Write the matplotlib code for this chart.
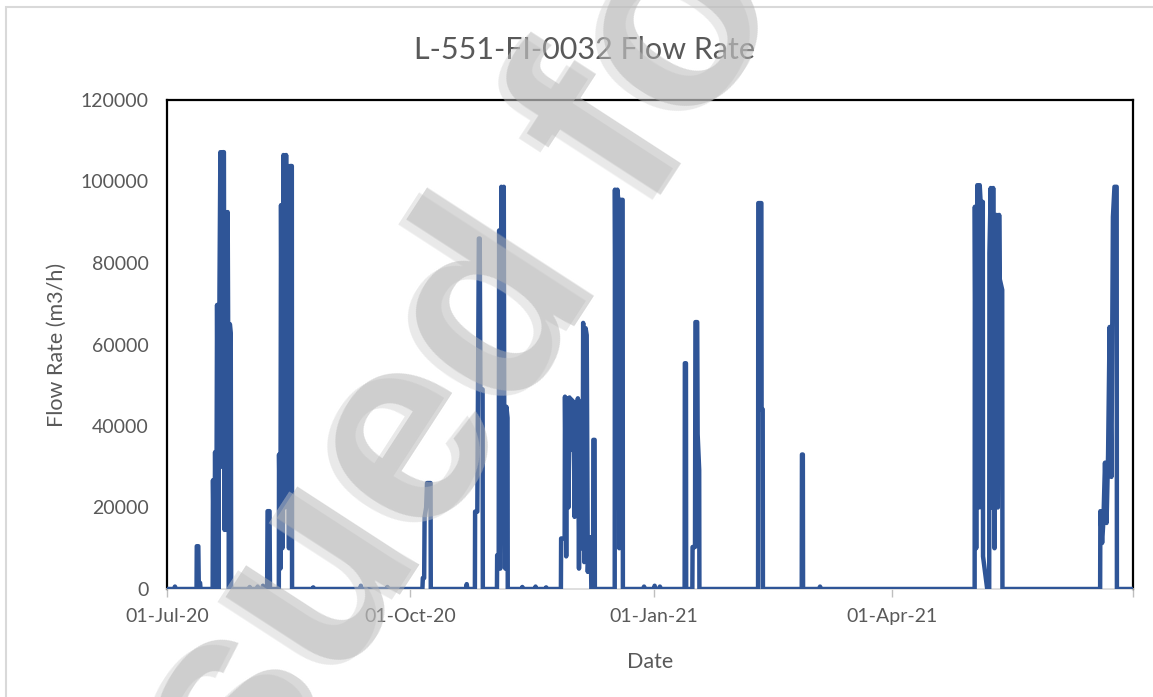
import pandas as pd
import matplotlib.pyplot as plt
from matplotlib.patches import Rectangle

# Flow readings (timestamp, m3/h)
times = [
    "2020-07-01 00:00", "2020-07-03 20:00", "2020-07-04 00:00", "2020-07-04 06:00",
    "2020-07-12 04:00", "2020-07-12 06:00", "2020-07-12 20:00", "2020-07-13 00:00", "2020-07-13 12:00", "2020-07-13 16:00",
    "2020-07-18 06:00", "2020-07-18 09:00", "2020-07-18 20:00", "2020-07-19 04:00", "2020-07-19 14:00", "2020-07-19 22:00",
    "2020-07-20 10:00", "2020-07-20 20:00", "2020-07-21 04:00", "2020-07-21 16:00", "2020-07-22 02:00", "2020-07-22 12:00",
    "2020-07-22 18:00", "2020-07-23 04:00", "2020-07-23 14:00", "2020-07-23 22:00", "2020-07-24 02:00", "2020-07-24 10:00",
    "2020-07-24 18:00", "2020-07-25 02:00", "2020-07-25 06:00",
    "2020-08-01 00:00", "2020-08-01 06:00", "2020-08-01 12:00", "2020-08-04 00:00", "2020-08-04 06:00", "2020-08-04 12:00",
    "2020-08-06 00:00", "2020-08-06 06:00", "2020-08-06 12:00",
    "2020-08-07 20:00", "2020-08-08 00:00", "2020-08-08 18:00", "2020-08-08 22:00",
    "2020-08-12 06:00", "2020-08-12 08:00", "2020-08-12 20:00", "2020-08-13 02:00", "2020-08-13 14:00", "2020-08-14 00:00",
    "2020-08-14 12:00", "2020-08-15 00:00", "2020-08-15 06:00", "2020-08-15 14:00", "2020-08-16 02:00", "2020-08-16 12:00",
    "2020-08-17 04:00", "2020-08-17 06:00",
    "2020-08-25 00:00", "2020-08-25 06:00", "2020-08-25 12:00",
    "2020-09-12 00:00", "2020-09-12 06:00", "2020-09-12 12:00",
    "2020-09-22 00:00", "2020-09-22 06:00", "2020-09-22 12:00",
    "2020-10-05 12:00", "2020-10-05 16:00", "2020-10-06 04:00", "2020-10-06 08:00", "2020-10-06 22:00", "2020-10-07 06:00",
    "2020-10-08 14:00", "2020-10-08 16:00",
    "2020-10-22 00:00", "2020-10-22 06:00", "2020-10-22 12:00",
    "2020-10-25 08:00", "2020-10-25 10:00", "2020-10-26 06:00", "2020-10-26 20:00", "2020-10-27 04:00", "2020-10-27 10:00",
    "2020-10-28 06:00", "2020-10-28 08:00",
    "2020-11-02 16:00", "2020-11-02 18:00", "2020-11-03 08:00", "2020-11-03 12:00", "2020-11-03 22:00", "2020-11-04 08:00",
    "2020-11-04 20:00", "2020-11-05 06:00", "2020-11-05 10:00", "2020-11-05 20:00", "2020-11-06 06:00", "2020-11-06 16:00",
    "2020-11-06 18:00",
    "2020-11-12 00:00", "2020-11-12 06:00", "2020-11-12 12:00",
    "2020-11-17 00:00", "2020-11-17 06:00", "2020-11-17 12:00",
    "2020-11-21 00:00", "2020-11-21 06:00", "2020-11-21 12:00",
    "2020-11-26 20:00", "2020-11-26 22:00", "2020-11-28 06:00", "2020-11-28 09:00", "2020-11-28 20:00", "2020-11-29 06:00",
    "2020-11-29 16:00", "2020-11-30 02:00", "2020-11-30 10:00", "2020-11-30 20:00", "2020-12-01 06:00", "2020-12-01 14:00",
    "2020-12-02 00:00", "2020-12-02 10:00", "2020-12-02 20:00", "2020-12-03 06:00", "2020-12-03 16:00", "2020-12-04 02:00",
    "2020-12-04 12:00", "2020-12-05 00:00", "2020-12-05 06:00", "2020-12-05 16:00", "2020-12-06 04:00", "2020-12-06 14:00",
    "2020-12-07 00:00", "2020-12-07 10:00", "2020-12-07 16:00", "2020-12-08 02:00", "2020-12-08 08:00",
    "2020-12-09 00:00", "2020-12-09 02:00", "2020-12-09 14:00", "2020-12-09 16:00",
    "2020-12-17 04:00", "2020-12-17 06:00", "2020-12-17 18:00", "2020-12-18 04:00", "2020-12-18 12:00", "2020-12-18 22:00",
    "2020-12-19 08:00", "2020-12-20 04:00", "2020-12-20 06:00",
    "2020-12-28 00:00", "2020-12-28 06:00", "2020-12-28 12:00",
    "2021-01-01 00:00", "2021-01-01 06:00", "2021-01-01 12:00",
    "2021-01-03 00:00", "2021-01-03 06:00", "2021-01-03 12:00",
    "2021-01-12 14:00", "2021-01-12 16:00", "2021-01-13 02:00", "2021-01-13 04:00",
    "2021-01-15 12:00", "2021-01-15 14:00", "2021-01-16 12:00", "2021-01-16 16:00", "2021-01-17 08:00", "2021-01-17 12:00",
    "2021-01-18 02:00", "2021-01-18 04:00",
    "2021-02-09 08:00", "2021-02-09 10:00", "2021-02-10 14:00", "2021-02-10 16:00", "2021-02-11 02:00", "2021-02-11 04:00",
    "2021-02-25 20:00", "2021-02-25 22:00", "2021-02-26 06:00", "2021-02-26 08:00",
    "2021-03-04 12:00", "2021-03-04 18:00", "2021-03-05 00:00",
    "2021-05-02 04:00", "2021-05-02 06:00", "2021-05-02 18:00", "2021-05-03 04:00", "2021-05-03 16:00", "2021-05-04 02:00",
    "2021-05-04 10:00", "2021-05-04 20:00", "2021-05-05 06:00", "2021-05-05 08:00", "2021-05-06 22:00",
    "2021-05-07 16:00", "2021-05-07 18:00", "2021-05-08 06:00", "2021-05-08 18:00", "2021-05-09 04:00", "2021-05-09 16:00",
    "2021-05-10 04:00", "2021-05-10 10:00", "2021-05-10 22:00", "2021-05-11 10:00", "2021-05-11 16:00", "2021-05-12 14:00",
    "2021-05-12 16:00",
    "2021-06-18 14:00", "2021-06-18 16:00", "2021-06-19 08:00", "2021-06-19 20:00", "2021-06-20 10:00", "2021-06-21 00:00",
    "2021-06-21 14:00", "2021-06-22 04:00", "2021-06-22 20:00", "2021-06-23 10:00", "2021-06-24 00:00", "2021-06-24 20:00",
    "2021-06-24 22:00", "2021-06-30 22:00",
]
flow = [
    0, 0, 600, 0,
    0, 10500, 10500, 1500, 1500, 0,
    0, 26700, 0, 33600, 0, 69700,
    0, 74000, 107200, 30000, 107200, 107200,
    14500, 92500, 14500, 92500, 68000, 0,
    65000, 62800, 0,
    0, 500, 0, 0, 600, 0,
    0, 800, 0,
    0, 19100, 19100, 0,
    0, 33000, 5000, 94200, 10000, 106500,
    20000, 106500, 46000, 103800, 10000, 103800,
    103800, 0,
    0, 400, 0,
    0, 800, 0,
    0, 500, 0,
    0, 2700, 2700, 17700, 20000, 26000,
    26000, 0,
    0, 1200, 0,
    0, 19000, 19000, 86000, 86000, 49000,
    49000, 0,
    0, 8300, 8300, 88000, 5000, 98700,
    20000, 98700, 44700, 5000, 44700, 42000,
    0,
    0, 500, 0,
    0, 600, 0,
    0, 400, 0,
    0, 12400, 12400, 47200, 8000, 46800,
    20000, 47000, 34100, 46500, 42000, 46000,
    17700, 44000, 43000, 46800, 5000, 46000,
    10000, 10000, 65300, 6600, 64000, 62300,
    4200, 12700, 7000, 12700, 0,
    0, 36600, 36600, 0,
    0, 98000, 20000, 98000, 95500, 10000,
    95500, 95500, 0,
    0, 600, 0,
    0, 800, 0,
    0, 600, 0,
    0, 55400, 55400, 0,
    0, 10300, 10300, 65500, 65500, 38000,
    29200, 0,
    0, 94700, 94700, 44100, 44100, 0,
    0, 33000, 33000, 0,
    0, 600, 0,
    0, 93800, 10000, 99100, 20000, 99100,
    95000, 20000, 95000, 8000, 0,
    0, 82400, 98400, 20000, 98400, 10000,
    77000, 91800, 20000, 91800, 76000, 73400,
    0,
    0, 19100, 11300, 17000, 31000, 16200,
    32900, 64300, 27500, 91300, 98700, 98700,
    0, 0,
]

tick_dates = ["2020-07-01", "2020-10-01", "2021-01-01", "2021-04-01", "2021-07-01"]
tick_labels = ["01-Jul-20", "01-Oct-20", "01-Jan-21", "01-Apr-21", ""]
y_ticks = [0, 20000, 40000, 60000, 80000, 100000, 120000]

df = pd.DataFrame({"time": pd.to_datetime(times), "flow": flow})

plt.rcParams['font.family'] = ['Lato', 'DejaVu Sans']
grey = '#595959'

fig = plt.figure(figsize=(11.53, 6.97), dpi=100)
ax = fig.add_axes([167 / 1153, 1 - 589 / 697, 966 / 1153, 489 / 697])

ax.plot(df["time"], df["flow"], color='#2F5597', lw=3.2, solid_joinstyle='round', zorder=3)

ax.set_xlim(pd.Timestamp("2020-07-01"), pd.Timestamp("2021-07-01"))
ax.set_ylim(0, 120000)
ax.set_xticks(pd.to_datetime(tick_dates))
ax.set_xticklabels(tick_labels)
ax.set_yticks(y_ticks)
ax.set_yticklabels([str(v) for v in y_ticks])

ax.tick_params(axis='y', length=0, pad=13, labelsize=14, labelcolor=grey)
ax.tick_params(axis='x', length=6, width=1, color='#bfbfbf', pad=8, labelsize=14, labelcolor=grey)

for side in ['top', 'left', 'right']:
    ax.spines[side].set_color('black')
    ax.spines[side].set_linewidth(1.6)
ax.spines['bottom'].set_color('#d9d9d9')
ax.spines['bottom'].set_linewidth(1.2)

# title is centred on the whole chart, not on the plot area
fig.text(585 / 1153, 1 - 50 / 697, "L-551-FI-0032 Flow Rate", fontsize=22, color=grey,
         ha='center', va='center')
ax.set_xlabel("Date", fontsize=15.5, color=grey, labelpad=19)
ax.set_ylabel("Flow Rate (m3/h)", fontsize=15.5, color=grey, labelpad=10)

# outer chart border
fig.patches.append(Rectangle((6 / 1153, -0.05), 1.2, 1 - 7 / 697 + 0.05, transform=fig.transFigure,
                             fill=False, edgecolor='#d9d9d9', lw=1.5))

# watermark
wm = "Issued for Review"
fig.text(0.106, -0.457, wm, rotation=57, rotation_mode='anchor', ha='left', va='baseline',
         fontsize=198, fontweight='bold', family='Liberation Sans', color='#cfcfcf', alpha=0.45, zorder=10)
fig.text(0.113, -0.450, wm, rotation=57, rotation_mode='anchor', ha='left', va='baseline',
         fontsize=198, fontweight='bold', family='Liberation Sans', color='#b4b4b4', alpha=0.5, zorder=11)

fig.savefig('out.png', dpi=100)
